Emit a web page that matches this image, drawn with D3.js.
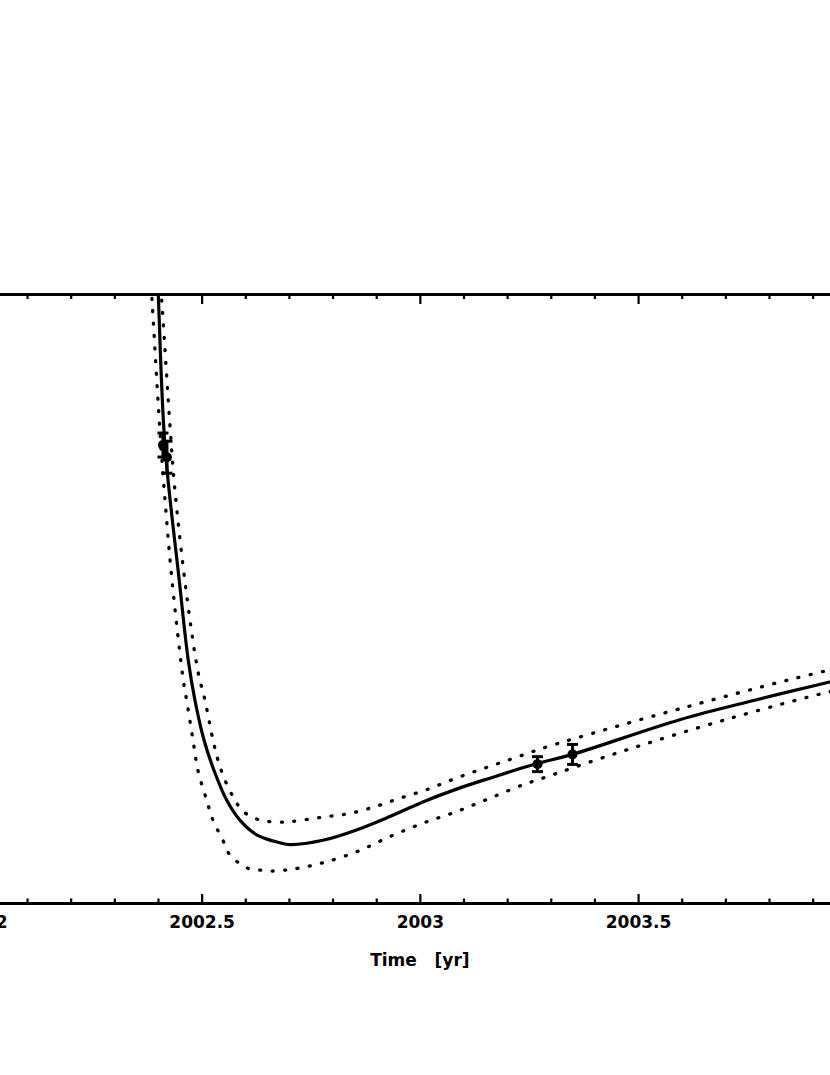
<!DOCTYPE html>
<html>
<head>
<meta charset="utf-8">
<script src="https://cdn.jsdelivr.net/npm/d3@7/dist/d3.min.js"></script>
<style>
  html, body { margin: 0; padding: 0; background: #fff; }
  svg { display: block; }
  text { font-family: "DejaVu Sans", sans-serif; font-weight: bold; fill: #000; }
</style>
</head>
<body>
<svg id="chart" width="830" height="1075"></svg>
<script>
// ---------------- data ----------------
const xDomain = [2002, 2004];
const yDomain = [0, 100];
const majorTicks = [2002, 2002.5, 2003, 2003.5, 2004];
const majorTickLabels = ["2002", "2002.5", "2003", "2003.5", "2004"];
const minorTicks = [2002.1, 2002.2, 2002.3, 2002.4, 2002.6, 2002.7, 2002.8, 2002.9,
                    2003.1, 2003.2, 2003.3, 2003.4, 2003.6, 2003.7, 2003.8, 2003.9];
const xLabel = "Time   [yr]";

// best-fit model curve
const fitT = [2002.3942, 2002.4006, 2002.4159, 2002.4487, 2002.4693, 2002.4847,
  2002.5053, 2002.5282, 2002.5573, 2002.5877, 2002.6260, 2002.6793, 2002.7022, 2002.7778,
  2002.8550, 2002.9313, 2003.0069, 2003.0840, 2003.1603, 2003.2588, 2003.3497, 2003.5955,
  2003.7673, 2003.9391, 2004.0];
const fitV = [110.5, 100.0, 75.2, 53.0, 39.9, 33.3,
  26.8, 21.8, 16.9, 13.6, 11.2, 9.9, 9.6, 10.3,
  12.0, 14.2, 16.6, 18.7, 20.5, 22.7, 24.4, 30.1,
  33.3, 36.3, 37.3];

// lower envelope (dotted)
const lowT = [2002.3793, 2002.3868, 2002.4029, 2002.4137, 2002.4313, 2002.4579, 2002.4656, 2002.4801,
  2002.4915, 2002.5115, 2002.5259, 2002.5488, 2002.5648, 2002.6060, 2002.6335, 2002.6603,
  2002.6908, 2002.7206, 2002.7778, 2002.8550, 2002.9313, 2003.0069, 2003.0840, 2003.1603,
  2003.2359, 2003.2817, 2003.4505, 2003.7100, 2003.9391, 2004.0];
const lowV = [107.5, 98.5, 79.3, 68.4, 53.6, 36.6, 33.3, 26.8,
  21.8, 16.9, 13.6, 10.3, 7.9, 5.7, 5.4, 5.25,
  5.4, 5.7, 6.6, 8.4, 10.9, 13.1, 15.0, 17.2,
  19.4, 20.5, 24.6, 30.3, 34.7, 35.6];

// upper envelope (dotted)
const highT = [2002.3999, 2002.4098, 2002.4274, 2002.4388, 2002.4656, 2002.4922, 2002.5076, 2002.5259,
  2002.5373, 2002.5534, 2002.5763, 2002.5916, 2002.6145, 2002.6374, 2002.6633, 2002.6947,
  2002.7206, 2002.7778, 2002.8397, 2002.9008, 2002.9542, 2003.0153, 2003.0687, 2003.1260,
  2003.1793, 2003.2366, 2003.2939, 2003.6109, 2003.9299, 2004.0];
const highV = [107.2, 97.7, 78.5, 67.8, 50.6, 37.8, 33.3, 26.8,
  23.5, 20.2, 16.9, 15.3, 14.1, 13.6, 13.3, 13.3,
  13.5, 14.1, 14.7, 15.9, 17.2, 18.6, 20.1, 21.6,
  22.9, 24.3, 25.7, 32.2, 38.1, 39.0];

// measurements with error bars
const obsT = [2002.4114, 2002.4206, 2003.2696, 2003.3497];
const obsV = [75.2, 73.2, 22.8, 24.4];
const obsErr = [1.97, 2.63, 1.23, 1.64];

// ---------------- layout ----------------
const svg = d3.select("#chart");
const plot = { left: -16.6, right: 856.3, top: 294, bottom: 903 };

const x = d3.scaleLinear().domain(xDomain).range([plot.left, plot.right]);
const y = d3.scaleLinear().domain(yDomain).range([plot.bottom, plot.top]);

svg.append("defs").append("clipPath").attr("id", "clip")
  .append("rect")
  .attr("x", plot.left).attr("y", plot.top)
  .attr("width", plot.right - plot.left).attr("height", plot.bottom - plot.top);

const g = svg.append("g").attr("clip-path", "url(#clip)");

const line = d3.line()
  .x(d => x(d[0])).y(d => y(d[1]))
  .curve(d3.curveCatmullRom.alpha(0.5));

const zip = (a, b) => a.map((v, i) => [v, b[i]]);

g.append("path").datum(zip(lowT, lowV))
  .attr("d", line).attr("fill", "none").attr("stroke", "#000")
  .attr("stroke-width", 3.3).attr("stroke-linecap", "round")
  .attr("stroke-dasharray", "1 11.5");

g.append("path").datum(zip(highT, highV))
  .attr("d", line).attr("fill", "none").attr("stroke", "#000")
  .attr("stroke-width", 3.3).attr("stroke-linecap", "round")
  .attr("stroke-dasharray", "1 11.5");

g.append("path").datum(zip(fitT, fitV))
  .attr("d", line).attr("fill", "none").attr("stroke", "#000")
  .attr("stroke-width", 3.2);

// error bars and points
const obs = obsT.map((t, i) => ({ t, v: obsV[i], e: obsErr[i] }));
const eb = g.append("g").attr("stroke", "#000").attr("stroke-width", 3);
obs.forEach(d => {
  eb.append("line").attr("x1", x(d.t)).attr("x2", x(d.t))
    .attr("y1", y(d.v - d.e)).attr("y2", y(d.v + d.e));
  eb.append("line").attr("x1", x(d.t) - 5.5).attr("x2", x(d.t) + 5.5)
    .attr("y1", y(d.v - d.e)).attr("y2", y(d.v - d.e));
  eb.append("line").attr("x1", x(d.t) - 5.5).attr("x2", x(d.t) + 5.5)
    .attr("y1", y(d.v + d.e)).attr("y2", y(d.v + d.e));
});
g.append("g").selectAll("circle").data(obs).join("circle")
  .attr("cx", d => x(d.t)).attr("cy", d => y(d.v)).attr("r", 5).attr("fill", "#000");

// ---------------- axes ----------------
function styleAxis(sel) {
  sel.select(".domain").attr("stroke-width", 3).attr("stroke", "#000");
  sel.selectAll(".tick line").attr("stroke-width", 2.2).attr("stroke", "#000");
}

// bottom major
const bottomMajor = svg.append("g").attr("transform", `translate(0,${plot.bottom})`)
  .call(d3.axisBottom(x).tickValues(majorTicks)
    .tickFormat((d, i) => majorTickLabels[i]).tickSizeInner(-9).tickSizeOuter(0).tickPadding(13));
styleAxis(bottomMajor);
bottomMajor.selectAll(".tick text").attr("font-size", 17)
  .attr("font-family", "DejaVu Sans, sans-serif").attr("font-weight", "bold");

const bottomMinor = svg.append("g").attr("transform", `translate(0,${plot.bottom})`)
  .call(d3.axisBottom(x).tickValues(minorTicks).tickFormat("").tickSizeInner(-4.5).tickSizeOuter(0));
styleAxis(bottomMinor);

// top
const topMajor = svg.append("g").attr("transform", `translate(0,${plot.top})`)
  .call(d3.axisTop(x).tickValues(majorTicks).tickFormat("").tickSizeInner(-10).tickSizeOuter(0));
styleAxis(topMajor);
const topMinor = svg.append("g").attr("transform", `translate(0,${plot.top})`)
  .call(d3.axisTop(x).tickValues(minorTicks).tickFormat("").tickSizeInner(-5).tickSizeOuter(0));
styleAxis(topMinor);

// left / right frame (lies outside the visible window)
const leftAx = svg.append("g").attr("transform", `translate(${plot.left},0)`)
  .call(d3.axisLeft(y).ticks(5).tickFormat("").tickSizeInner(-10).tickSizeOuter(0));
styleAxis(leftAx);
const rightAx = svg.append("g").attr("transform", `translate(${plot.right},0)`)
  .call(d3.axisRight(y).ticks(5).tickFormat("").tickSizeInner(-10).tickSizeOuter(0));
styleAxis(rightAx);

// x label
svg.append("text")
  .attr("x", (plot.left + plot.right) / 2).attr("y", 966)
  .attr("text-anchor", "middle").attr("font-size", 17)
  .attr("xml:space", "preserve").style("white-space", "pre")
  .text(xLabel);
</script>
</body>
</html>
